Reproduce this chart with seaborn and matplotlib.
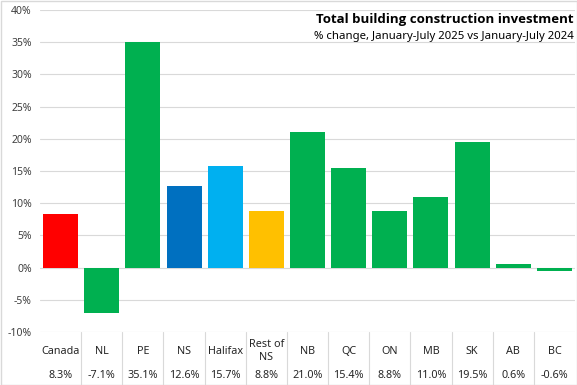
import matplotlib
matplotlib.use("Agg")
import matplotlib.pyplot as plt
import matplotlib.transforms as mtransforms
from matplotlib.ticker import FuncFormatter
import seaborn as sns
import pandas as pd

categories = ["Canada", "NL", "PE", "NS", "Halifax", "Rest of\nNS", "NB", "QC", "ON", "MB", "SK", "AB", "BC"]
values = [8.3, -7.1, 35.1, 12.6, 15.7, 8.8, 21.0, 15.4, 8.8, 11.0, 19.5, 0.6, -0.6]
value_labels = ["8.3%", "-7.1%", "35.1%", "12.6%", "15.7%", "8.8%", "21.0%", "15.4%", "8.8%", "11.0%", "19.5%", "0.6%", "-0.6%"]
colors = ["#FF0000", "#00B050", "#00B050", "#0070C0", "#00B0F0", "#FFC000", "#00B050",
          "#00B050", "#00B050", "#00B050", "#00B050", "#00B050", "#00B050"]
title = "Total building construction investment"
subtitle = "% change, January-July 2025 vs January-July 2024"

sns.set_style("white")
plt.rcParams['font.family'] = ['Noto Sans', 'DejaVu Sans']

df = pd.DataFrame({"cat": categories, "val": values})

fig = plt.figure(figsize=(5.77, 3.85), dpi=100)
W, H = 577, 385
ax = fig.add_axes([40 / W, (H - 332) / H, (575 - 40) / W, (332 - 10) / H])

sns.barplot(data=df, x="cat", y="val", hue="cat", palette=colors, legend=False,
            width=0.85, ax=ax, saturation=1, edgecolor="none")

ax.set_ylim(-10, 40)
ax.set_xlim(-0.5, len(categories) - 0.5)
ax.set_yticks(range(-10, 41, 5))
ax.yaxis.set_major_formatter(FuncFormatter(lambda v, p: f"{int(v)}%"))
ax.tick_params(axis="y", labelsize=7.5, colors="#404040", length=0, pad=6)
ax.set_xticks([])
ax.set_xlabel("")
ax.set_ylabel("")
ax.grid(axis="y", color="#D9D9D9", linewidth=0.8)
ax.set_axisbelow(True)
for s in ax.spines.values():
    s.set_visible(False)

trans = mtransforms.blended_transform_factory(ax.transData, ax.transAxes)
def yfrac(py):
    return (332 - py) / (332 - 10)

for i, (c, v) in enumerate(zip(categories, value_labels)):
    ax.text(i, yfrac(351), c, transform=trans, ha="center", va="center",
            fontsize=7.8, color="#262626", linespacing=1.3)
    ax.text(i, yfrac(375), v, transform=trans, ha="center", va="center",
            fontsize=7.8, color="#262626")
for i in range(len(categories) - 1):
    ax.plot([i + 0.5, i + 0.5], [0, yfrac(385)], transform=trans, color="#D9D9D9",
            linewidth=0.8, clip_on=False)

fig.text(574 / W, 1 - 19 / H, title, ha="right", va="center", fontsize=9.5,
         fontweight="bold", color="#000000", family=["Open Sans", "DejaVu Sans"])
fig.text(574 / W, 1 - 37 / H, subtitle, ha="right", va="center", fontsize=8.2,
         color="#000000")

border = plt.Rectangle((0.5 / W, 0.5 / H), 1 - 1 / W, 1 - 1 / H, transform=fig.transFigure,
                       fill=False, edgecolor="#D9D9D9", linewidth=1)
fig.patches.append(border)

fig.savefig("out.png", dpi=100)
